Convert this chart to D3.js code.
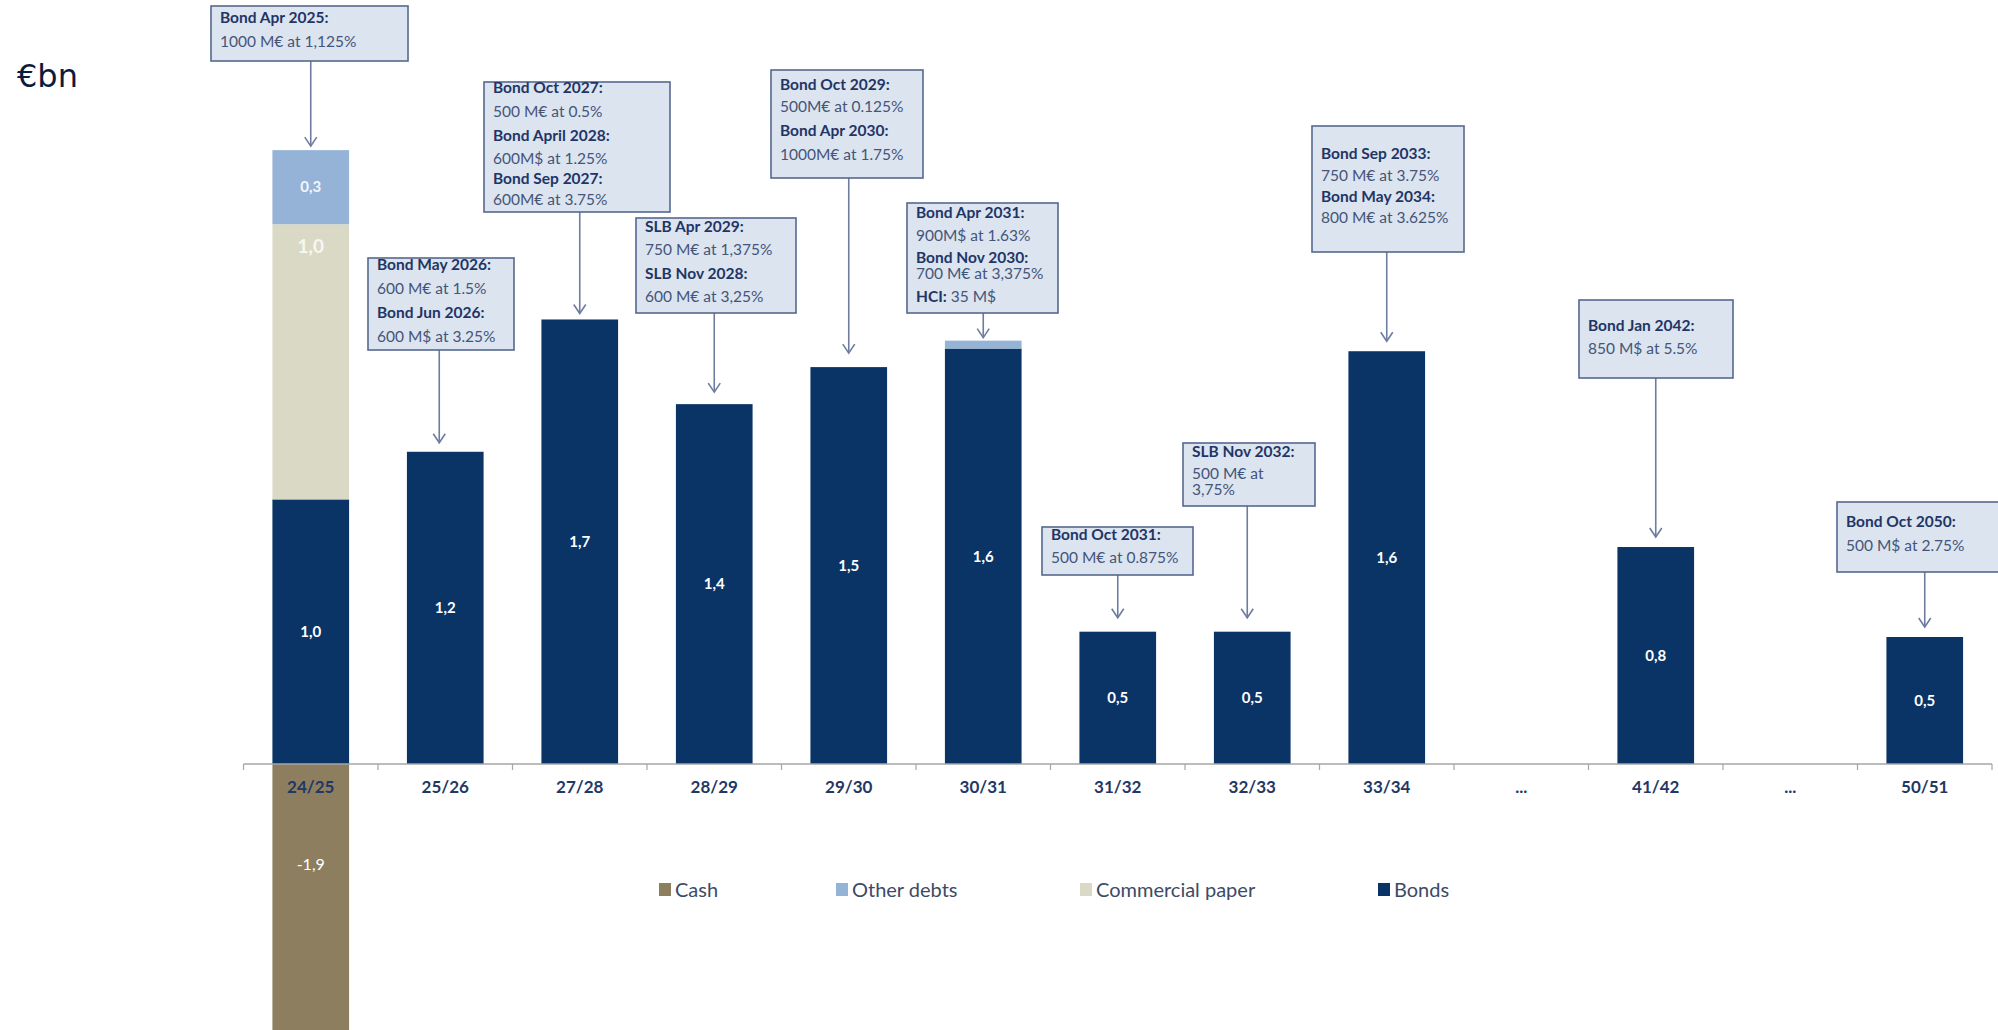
<!DOCTYPE html>
<html>
<head>
<meta charset="utf-8">
<script src="https://cdn.jsdelivr.net/npm/d3@7"></script>
<style>
  html, body { margin: 0; padding: 0; background: #ffffff; }
  svg { display: block; }
</style>
</head>
<body>
<svg id="chart" width="1998" height="1030"></svg>
<script>
// Debt maturity profile, €bn, by fiscal year
const categories = ["24/25", "25/26", "27/28", "28/29", "29/30", "30/31", "31/32", "32/33", "33/34", "...", "41/42", "...", "50/51"];
const bonds           = [1.00, 1.18, 1.68, 1.36, 1.50, 1.57, 0.50, 0.50, 1.56, 0, 0.82, 0, 0.48];
const commercialPaper = [1.04, 0, 0, 0, 0, 0, 0, 0, 0, 0, 0, 0, 0];
const otherDebts      = [0.28, 0, 0, 0, 0, 0.03, 0, 0, 0, 0, 0, 0, 0];
const cash            = [-1.9, 0, 0, 0, 0, 0, 0, 0, 0, 0, 0, 0, 0];

const legendLabels = ["Cash", "Other debts", "Commercial paper", "Bonds"];
const unitLabel = "€bn";

// Bond details shown above each maturity bar
const noteCategories = [0, 1, 2, 3, 4, 5, 6, 7, 8, 10, 12];
const noteTexts = [
  ["Bond Apr 2025:", "1000 M€ at 1,125%"],
  ["Bond May 2026:", "600 M€ at 1.5%", "Bond Jun 2026:", "600 M$ at 3.25%"],
  ["Bond Oct 2027:", "500 M€ at 0.5%", "Bond April 2028:", "600M$ at 1.25%", "Bond Sep 2027:", "600M€ at 3.75%"],
  ["SLB Apr 2029:", "750 M€ at 1,375%", "SLB Nov 2028:", "600 M€ at 3,25%"],
  ["Bond Oct 2029:", "500M€ at 0.125%", "Bond Apr 2030:", "1000M€ at 1.75%"],
  ["Bond Apr 2031:", "900M$ at 1.63%", "Bond Nov 2030:", "700 M€ at 3,375%", "HCI: 35 M$"],
  ["Bond Oct 2031:", "500 M€ at 0.875%"],
  ["SLB Nov 2032:", "500 M€ at", "3,75%"],
  ["Bond Sep 2033:", "750 M€ at 3.75%", "Bond May 2034:", "800 M€ at 3.625%"],
  ["Bond Jan 2042:", "850 M$ at 5.5%"],
  ["Bond Oct 2050:", "500 M$ at 2.75%"]
];

// ---- layout & styles ----
const W = 1998, H = 1030;
const axisY = 764, pxPerUnit = 264.6;
const FONT = "Lato, 'Open Sans', sans-serif";

const seriesStyle = {
  bonds:           { color: "#0a3466" },
  commercialPaper: { color: "#dad9c5" },
  otherDebts:      { color: "#95b3d7" },
  cash:            { color: "#8c7e5f" }
};

// callout boxes: position, size, text row centres (relative to box top)
const noteLayout = [
  { x: 211,  y: 6,   w: 197, h: 55,  rows: [12, 36], gap: 4 },
  { x: 368,  y: 258, w: 146, h: 92,  rows: [7, 31, 55, 79], dx: -6, gap: 9 },
  { x: 484,  y: 82,  w: 186, h: 130, rows: [6, 30, 54, 77, 97, 118], gap: 6 },
  { x: 636,  y: 218, w: 160, h: 95,  rows: [9, 32, 56, 79], gap: 12 },
  { x: 771,  y: 70,  w: 152, h: 108, rows: [15, 37, 61, 85], gap: 14 },
  { x: 907,  y: 203, w: 151, h: 110, rows: [10, 33, 55, 71, 94], gap: 3 },
  { x: 1042, y: 527, w: 151, h: 48,  rows: [8, 31], gap: 14 },
  { x: 1183, y: 443, w: 132, h: 63,  rows: [9, 31, 47], dx: -5, gap: 14 },
  { x: 1312, y: 126, w: 152, h: 126, rows: [28, 50, 71, 92], gap: 10 },
  { x: 1579, y: 300, w: 154, h: 78,  rows: [26, 49], gap: 10 },
  { x: 1837, y: 502, w: 165, h: 70,  rows: [20, 44], gap: 10 }
];
const legendX = [659, 836, 1080, 1378];

const svg = d3.select("#chart");

// scales
const x = d3.scaleBand()
  .domain(d3.range(categories.length))
  .range([243.5, 1992])
  .paddingInner(0.43)
  .paddingOuter(0.215);

const y = d3.scaleLinear()
  .domain([0, 2.5])
  .range([axisY, axisY - 2.5 * pxPerUnit]);

// stacked data
const keys = ["bonds", "commercialPaper", "otherDebts", "cash"];
const rows = categories.map((c, i) => ({
  i,
  bonds: bonds[i],
  commercialPaper: commercialPaper[i],
  otherDebts: otherDebts[i],
  cash: cash[i]
}));
const stacked = d3.stack().keys(keys).offset(d3.stackOffsetDiverging)(rows);

const fmtLocale = d3.formatLocale({ decimal: ",", thousands: ".", grouping: [3], currency: ["", "€"], minus: "-" });
const fmt = fmtLocale.format(".1f");

// bars
const barG = svg.append("g");
stacked.forEach(layer => {
  barG.append("g")
    .attr("fill", seriesStyle[layer.key].color)
    .selectAll("rect")
    .data(layer.filter(d => d[1] !== d[0]))
    .join("rect")
    .attr("x", d => x(d.data.i))
    .attr("width", x.bandwidth())
    .attr("y", d => y(Math.max(d[0], d[1])))
    .attr("height", d => Math.abs(y(d[0]) - y(d[1])));
});

// value labels inside bars
const labelG = svg.append("g").attr("font-family", FONT).attr("text-anchor", "middle");
stacked.forEach(layer => {
  const key = layer.key;
  layer.filter(d => Math.abs(d[1] - d[0]) >= 0.1).forEach(d => {
    const v = d.data[key];
    const top = y(Math.max(d[0], d[1])), bot = y(Math.min(d[0], d[1]));
    const cx = x(d.data.i) + x.bandwidth() / 2;
    let ty = (top + bot) / 2, size = 15, weight = 700, fill = "#ffffff";
    if (key === "commercialPaper") { ty = top + 22; size = 19; fill = "#f7f7f2"; }
    if (key === "cash") { ty = top + 100; weight = 400; size = 16; }
    if (key === "otherDebts") { fill = "#f3f6fb"; }
    labelG.append("text")
      .attr("x", cx)
      .attr("y", ty)
      .attr("dy", "0.35em")
      .attr("font-size", size)
      .attr("font-weight", weight)
      .attr("fill", fill)
      .text(fmt(v));
  });
});

// category axis
const axisG = svg.append("g").attr("transform", `translate(0,${axisY})`);
axisG.call(
  d3.axisBottom(x)
    .tickSize(0)
    .tickPadding(17)
    .tickFormat(i => categories[i])
);
axisG.select(".domain").remove();
axisG.selectAll(".tick text")
  .attr("font-family", FONT)
  .attr("font-size", 17)
  .attr("font-weight", 700)
  .attr("fill", "#1f3864");

const step = x.step();
const edge0 = x(0) - step * x.paddingOuter();
axisG.append("line")
  .attr("x1", edge0).attr("x2", edge0 + step * categories.length)
  .attr("y1", 0).attr("y2", 0)
  .attr("stroke", "#a6a6a6").attr("stroke-width", 1.5);
axisG.append("g").selectAll("line")
  .data(d3.range(categories.length + 1))
  .join("line")
  .attr("x1", k => edge0 + k * step).attr("x2", k => edge0 + k * step)
  .attr("y1", 0).attr("y2", 6)
  .attr("stroke", "#a6a6a6").attr("stroke-width", 1.2);

// callouts with arrows
const noteG = svg.append("g").attr("font-family", FONT);
noteCategories.forEach((ci, n) => {
  const L = noteLayout[n];
  const total = bonds[ci] + commercialPaper[ci] + otherDebts[ci];
  const ax = x(ci) + x.bandwidth() / 2 + (L.dx || 0);
  const tipY = y(total) - (L.gap == null ? 10 : L.gap);
  const g = noteG.append("g");

  g.append("line")
    .attr("x1", ax).attr("x2", ax)
    .attr("y1", L.y + L.h).attr("y2", tipY)
    .attr("stroke", "#6e7ca0").attr("stroke-width", 1.6);
  g.append("path")
    .attr("d", `M${ax - 6},${tipY - 9} L${ax},${tipY} L${ax + 6},${tipY - 9}`)
    .attr("fill", "none").attr("stroke", "#6e7ca0").attr("stroke-width", 1.6);

  g.append("rect")
    .attr("x", L.x).attr("y", L.y)
    .attr("width", L.w).attr("height", L.h)
    .attr("fill", "#dce4ef")
    .attr("stroke", "#55688f")
    .attr("stroke-width", 1.6);

  noteTexts[n].forEach((line, r) => {
    const t = g.append("text")
      .attr("x", L.x + 9)
      .attr("y", L.y + L.rows[r])
      .attr("dy", "0.35em")
      .attr("font-size", 15.5);
    const c = line.indexOf(":");
    if (c >= 0) {
      t.append("tspan").attr("font-weight", 700).attr("fill", "#1f3566").text(line.slice(0, c + 1));
      if (c + 1 < line.length) {
        t.append("tspan").attr("font-weight", 400).attr("fill", "#44557a").text(line.slice(c + 1));
      }
    } else {
      t.attr("font-weight", 400).attr("fill", "#44557a").text(line);
    }
  });
});

// unit label
svg.append("text")
  .attr("x", 17).attr("y", 87)
  .attr("font-family", "'DejaVu Sans', sans-serif")
  .attr("font-size", 32)
  .attr("fill", "#0c1a3d")
  .text(unitLabel);

// legend
const legendKeys = ["cash", "otherDebts", "commercialPaper", "bonds"];
const legG = svg.append("g").attr("font-family", FONT);
legendKeys.forEach((k, i) => {
  const item = legG.append("g").attr("transform", `translate(${legendX[i]},883)`);
  item.append("rect").attr("width", 12).attr("height", 13).attr("fill", seriesStyle[k].color);
  item.append("text")
    .attr("x", 16).attr("y", 7).attr("dy", "0.35em")
    .attr("font-size", 20)
    .attr("fill", "#3d4a66")
    .text(legendLabels[i]);
});
</script>
</body>
</html>
